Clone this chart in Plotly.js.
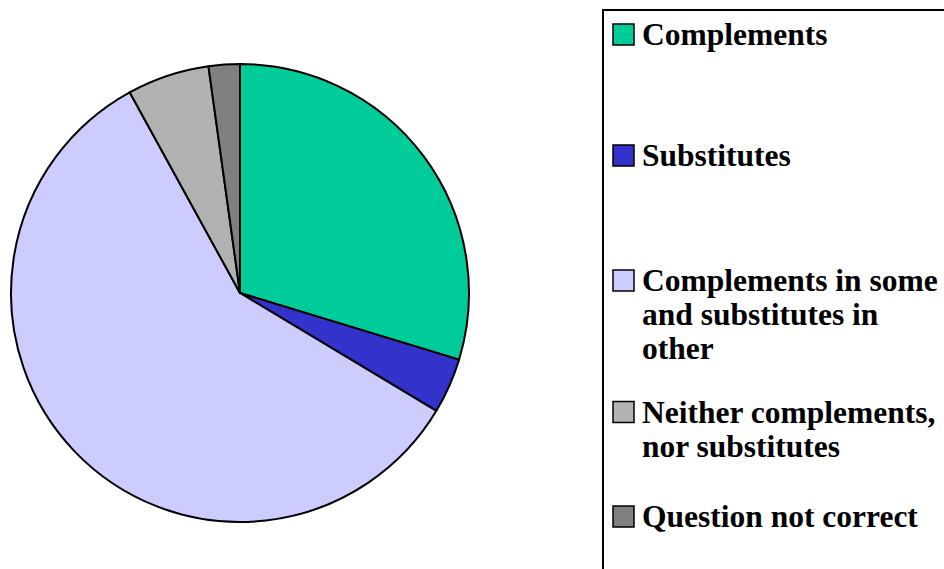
<!DOCTYPE html>
<html>
<head>
<meta charset="utf-8">
<script src="https://cdn.plot.ly/plotly-3.0.1.min.js"></script>
<style>html,body{margin:0;padding:0;background:#fff;}#chart{width:944px;height:569px;}</style>
</head>
<body>
<div id="chart"></div>
<script>
// Data
const labels = ["Complements", "Substitutes", "Complements in some<br>and substitutes in<br>other", "Neither complements,<br>nor substitutes", "Question not correct"];
const values = [29.7, 3.9, 58.4, 5.8, 2.2];
const colors = ["#00CC99", "#3333CC", "#CCCCFF", "#B2B2B2", "#808080"];

const W = 944, H = 569;
const px = p => p / W;
const py = p => 1 - p / H;

// legend layout (pixel centres of the legend keys)
const keyCentres = [34.5, 155.5, 280.5, 412, 516.5];
const lineGap = 34;

const shapes = [{
  type: 'rect', xref: 'paper', yref: 'paper',
  x0: px(603), x1: px(980), y0: py(10), y1: py(620),
  line: {color: '#000', width: 2}, fillcolor: 'rgba(0,0,0,0)'
}];
const annotations = [];
labels.forEach((lab, i) => {
  const c = keyCentres[i];
  shapes.push({
    type: 'rect', xref: 'paper', yref: 'paper',
    x0: px(613), x1: px(634), y0: py(c + 10.5), y1: py(c - 10.5),
    fillcolor: colors[i], line: {color: '#000', width: 1.5}
  });
  lab.split('<br>').forEach((ln, j) => {
    annotations.push({
      xref: 'paper', yref: 'paper', x: px(640), y: py(c + j * lineGap),
      xanchor: 'left', yanchor: 'middle', showarrow: false, text: ln,
      font: {family: 'Liberation Serif, Times New Roman, serif', size: 31.5, color: '#000', weight: 'bold'}
    });
  });
});

const trace = {
  type: 'pie',
  labels: labels,
  values: values,
  sort: false,
  direction: 'clockwise',
  rotation: 0,
  textinfo: 'none',
  hoverinfo: 'label+percent',
  marker: {colors: colors, line: {color: '#000', width: 2}},
  domain: {x: [px(11), px(469)], y: [py(522), py(64)]},
  showlegend: false
};

const layout = {
  width: W, height: H,
  margin: {l: 0, r: 0, t: 0, b: 0},
  paper_bgcolor: '#fff',
  showlegend: false,
  shapes: shapes,
  annotations: annotations
};

Plotly.newPlot('chart', [trace], layout, {displayModeBar: false, staticPlot: true});
</script>
</body>
</html>
